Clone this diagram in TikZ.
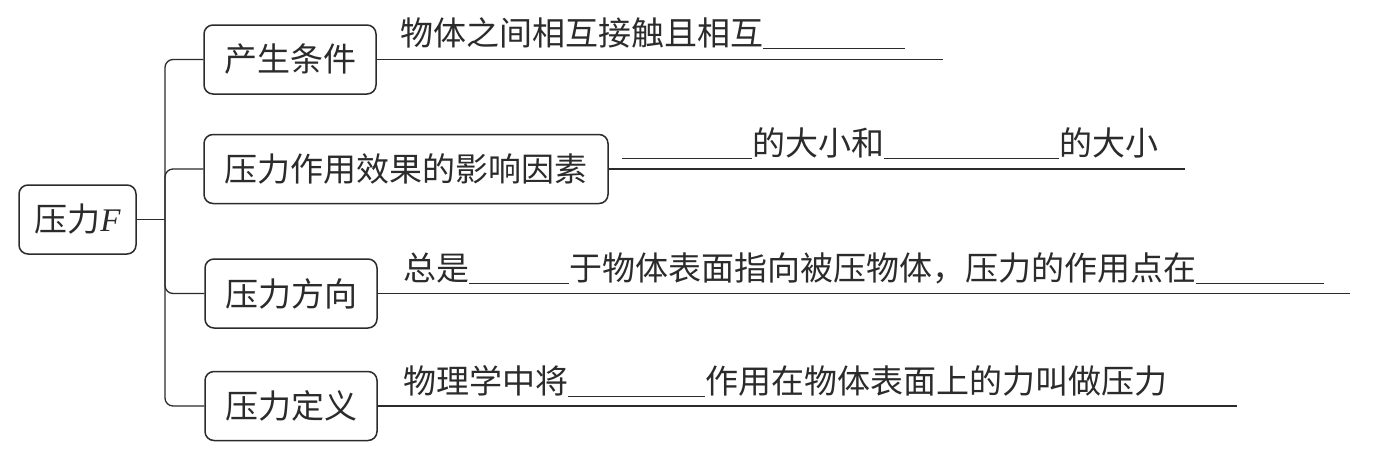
\documentclass[tikz,border=0pt]{standalone}
\usepackage{fontspec}
\newfontfamily\cjk{Noto Sans CJK SC}
\newfontfamily\lat{Liberation Serif}
\definecolor{ink}{HTML}{2B2B2B}
% blank to fill in
\newcommand\blank[1]{\rule[-4pt]{#1pt}{1.2pt}}

\begin{document}
\begin{tikzpicture}[x=1pt, y=-1pt,
    box/.style={draw=ink, line width=1.5pt, rounded corners=9pt, inner sep=0pt,
      minimum height=69pt, text=ink, font=\cjk\fontsize{33}{36}\selectfont},
    lbl/.style={anchor=base west, inner sep=0pt, text=ink,
      font=\cjk\fontsize{33}{36}\selectfont},
    link/.style={draw=ink, line width=1.3pt}]
  \useasboundingbox (0,0) rectangle (1382,451);

  % centre and branches
  \node[box, minimum width=117pt] (root) at (77.5,219.5) {压力{\lat\itshape F}};
  \node[box, minimum width=172pt] (cond) at (290,59.5) {产生条件};
  \node[box, minimum width=404pt] (effect) at (406,169) {压力作用效果的影响因素};
  \node[box, minimum width=172pt] (dir) at (291,293.5) {压力方向};
  \node[box, minimum width=172pt] (defn) at (291,406) {压力定义};

  \coordinate (trunk) at (165,219.5);
  \draw[link] (root.east) -- (trunk);
  \draw[link, rounded corners=8pt] (trunk) |- (cond.west);
  \draw[link, rounded corners=8pt] (trunk) |- (effect.west);
  \draw[link, rounded corners=8pt] (trunk) |- (dir.west);
  \draw[link, rounded corners=8pt] (trunk) |- (defn.west);

  % answer lines
  \coordinate (e1) at (943,59.5);
  \coordinate (e2) at (1185,169);
  \coordinate (e3) at (1350,293.5);
  \coordinate (e4) at (1237,406);
  \draw[link] (cond.east) -- (e1);
  \draw[link] (effect.east) -- (e2);
  \draw[link] (dir.east) -- (e3);
  \draw[link] (defn.east) -- (e4);

  \node[lbl] (t1) at (400,45) {物体之间相互接触且相互\blank{142}};
  \node[lbl] (t2) at (622,155) {\blank{130}的大小和\blank{175}的大小};
  \node[lbl] (t3) at (403,280) {总是\blank{100}于物体表面指向被压物体，压力的作用点在\blank{128}};
  \node[lbl] (t4) at (403,393) {物理学中将\blank{137}作用在物体表面上的力叫做压力};
\end{tikzpicture}
\end{document}
